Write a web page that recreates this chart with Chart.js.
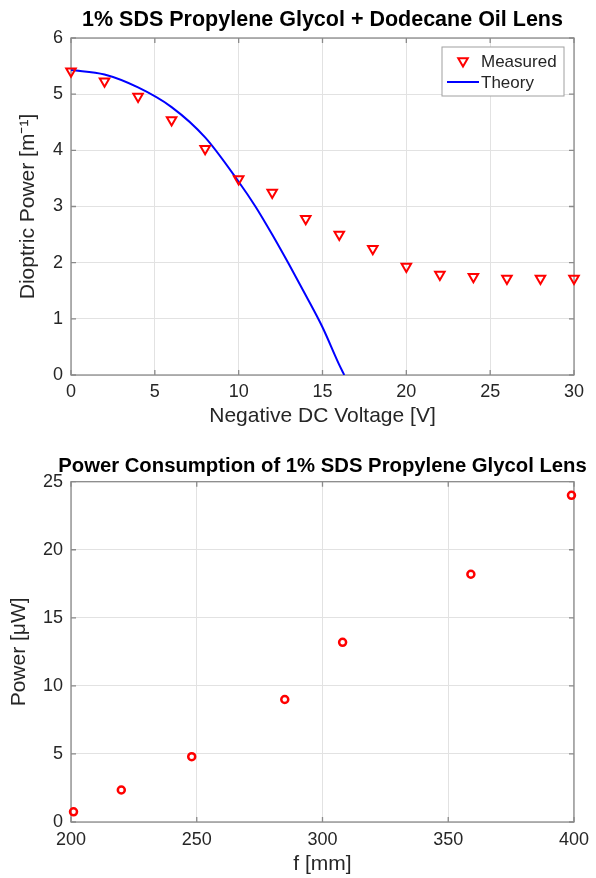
<!DOCTYPE html>
<html lang="en">
<head>
    <meta charset="UTF-8">
    <title>Lens Measurements</title>
    <script src="https://cdn.jsdelivr.net/npm/chart.js"></script>
    <style>
        body { margin: 0; background: #fff; }
        .wrap { position: relative; width: 596px; height: 878px; }
        .wrap canvas { position: absolute; left: 0; }
        #lensChart { top: 0; }
        #powerChart { top: 440px; }
    </style>
</head>
<body>
    <div class="wrap">
        <canvas id="lensChart" width="596" height="440"></canvas>
        <canvas id="powerChart" width="596" height="438"></canvas>
    </div>

    <script>
        // Top chart: dioptric power vs voltage
        const voltage = [0, 2, 4, 6, 8, 10, 12, 14, 16, 18, 20, 22, 24, 26, 28, 30];
        const measured = [5.41, 5.23, 4.96, 4.54, 4.03, 3.49, 3.25, 2.78, 2.50, 2.25, 1.93, 1.79, 1.75, 1.72, 1.72, 1.72];
        const theoryV = [0, 2, 4, 6, 8, 10, 11, 12, 13, 14, 15, 16, 16.3];
        const theoryP = [5.43, 5.35, 5.12, 4.77, 4.23, 3.44, 3.0, 2.5, 1.97, 1.42, 0.85, 0.18, 0];
        const voltTicks = [0, 5, 10, 15, 20, 25, 30];
        const dioptTicks = [0, 1, 2, 3, 4, 5, 6];

        // Bottom chart: power consumption vs focal length
        const focal = [201, 220, 248, 285, 308, 359, 399];
        const power = [0.75, 2.35, 4.8, 9.0, 13.2, 18.2, 24.0];
        const focalTicks = [200, 250, 300, 350, 400];
        const powerTicks = [0, 5, 10, 15, 20, 25];

        const FONT = '"Liberation Sans", Arial, Helvetica, sans-serif';
        const TEXT = '#262626';
        const FRAME = '#8a8a8a';
        Chart.defaults.font.family = FONT;
        Chart.defaults.color = TEXT;

        const pairs = (xs, ys) => xs.map((x, i) => ({ x: x, y: ys[i] }));

        // box around plot area with small inward ticks on all four sides
        const framePlugin = {
            id: 'frame',
            beforeDatasetsDraw(chart) {
                const { ctx, chartArea: a, scales } = chart;
                ctx.save();
                ctx.strokeStyle = FRAME;
                ctx.lineWidth = 1.3;
                ctx.beginPath();
                scales.x.ticks.forEach(t => {
                    const px = scales.x.getPixelForValue(t.value);
                    ctx.moveTo(px, a.bottom); ctx.lineTo(px, a.bottom - 5);
                    ctx.moveTo(px, a.top); ctx.lineTo(px, a.top + 5);
                });
                scales.y.ticks.forEach(t => {
                    const py = scales.y.getPixelForValue(t.value);
                    ctx.moveTo(a.left, py); ctx.lineTo(a.left + 5, py);
                    ctx.moveTo(a.right, py); ctx.lineTo(a.right - 5, py);
                });
                ctx.stroke();
                ctx.strokeRect(a.left, a.top, a.right - a.left, a.bottom - a.top);
                ctx.restore();
            }
        };

        // title centred over the plot area (matlab style)
        const plotTitle = {
            id: 'plotTitle',
            afterDraw(chart, args, opts) {
                const { ctx, chartArea: a } = chart;
                ctx.save();
                ctx.font = 'bold ' + opts.size + 'px ' + FONT;
                ctx.fillStyle = '#000';
                ctx.textAlign = 'center';
                ctx.textBaseline = 'alphabetic';
                ctx.fillText(opts.text, (a.left + a.right) / 2, opts.baseline);
                ctx.restore();
            }
        };

        // legend box inside the top-right corner
        const boxLegend = {
            id: 'boxLegend',
            afterDraw(chart, args, opts) {
                if (!opts.show) return;
                const { ctx, chartArea: a } = chart;
                const x0 = a.right - 132, y0 = a.top + 9, w = 122, h = 49;
                ctx.save();
                ctx.fillStyle = '#fff';
                ctx.fillRect(x0, y0, w, h);
                ctx.strokeStyle = '#a0a0a0';
                ctx.lineWidth = 1;
                ctx.strokeRect(x0, y0, w, h);
                ctx.font = '17px ' + FONT;
                ctx.textBaseline = 'middle';
                chart.data.datasets.forEach((ds, i) => {
                    const cy = y0 + 14 + i * 21;
                    ctx.strokeStyle = ds.borderColor;
                    ctx.lineWidth = ds.borderWidth;
                    if (ds.showLine) {
                        ctx.beginPath();
                        ctx.moveTo(x0 + 5, cy); ctx.lineTo(x0 + 37, cy);
                        ctx.stroke();
                    } else {
                        ctx.fillStyle = '#fff';
                        Chart.helpers.drawPoint(ctx, {
                            pointStyle: ds.pointStyle, rotation: ds.rotation,
                            radius: ds.pointRadius, borderWidth: ds.borderWidth
                        }, x0 + 21, cy);
                    }
                    ctx.fillStyle = TEXT;
                    ctx.fillText(ds.label, x0 + 39, cy + 1);
                });
                ctx.restore();
            }
        };

        function axis(ticks, title, fit, titlePad, tickPad) {
            return {
                type: 'linear',
                min: ticks[0],
                max: ticks[ticks.length - 1],
                afterBuildTicks: s => { s.ticks = ticks.map(v => ({ value: v })); },
                grid: { color: '#e2e2e2', lineWidth: 1, drawTicks: false },
                border: { display: false },
                ticks: { font: { size: 18 }, color: TEXT, padding: tickPad, maxRotation: 0 },
                title: { display: true, text: title, font: { size: 21 }, color: TEXT, padding: titlePad },
                afterFit: fit
            };
        }

        new Chart(document.getElementById('lensChart'), {
            type: 'scatter',
            data: {
                datasets: [{
                    label: 'Measured',
                    data: pairs(voltage, measured),
                    showLine: false,
                    clip: false,
                    pointStyle: 'triangle',
                    rotation: 180,
                    pointRadius: 5.5,
                    borderWidth: 2,
                    borderColor: '#ff0000',
                    backgroundColor: 'rgba(255,255,255,0)'
                }, {
                    label: 'Theory',
                    data: pairs(theoryV, theoryP),
                    showLine: true,
                    pointRadius: 0,
                    borderWidth: 2,
                    borderColor: '#0000ff',
                    cubicInterpolationMode: 'monotone'
                }]
            },
            options: {
                responsive: false,
                animation: false,
                devicePixelRatio: 1,
                layout: { padding: { left: 0, right: 22, top: 38, bottom: 0 } },
                plugins: {
                    legend: { display: false },
                    tooltip: { enabled: false },
                    title: { display: false },
                    plotTitle: { text: '1% SDS Propylene Glycol + Dodecane Oil Lens', size: 21.5, baseline: 25.5 },
                    boxLegend: { show: true }
                },
                scales: {
                    x: axis(voltTicks, 'Negative DC Voltage [V]', s => { s.height = 65; }, { top: 0, bottom: 11 }, 6),
                    y: axis(dioptTicks, 'Dioptric Power [m⁻¹]', s => { s.width = 71; }, { top: 16, bottom: 0 }, 8)
                }
            },
            plugins: [framePlugin, plotTitle, boxLegend]
        });

        new Chart(document.getElementById('powerChart'), {
            type: 'scatter',
            data: {
                datasets: [{
                    label: 'Power',
                    data: pairs(focal, power),
                    showLine: false,
                    clip: false,
                    pointStyle: 'circle',
                    pointRadius: 3.5,
                    borderWidth: 2.5,
                    borderColor: '#ff0000',
                    backgroundColor: 'rgba(255,255,255,0)'
                }]
            },
            options: {
                responsive: false,
                animation: false,
                devicePixelRatio: 1,
                layout: { padding: { left: 0, right: 22, top: 41.7, bottom: 0 } },
                plugins: {
                    legend: { display: false },
                    tooltip: { enabled: false },
                    title: { display: false },
                    plotTitle: { text: 'Power Consumption of 1% SDS Propylene Glycol Lens', size: 20.3, baseline: 32 },
                    boxLegend: { show: false }
                },
                scales: {
                    x: axis(focalTicks, 'f [mm]', s => { s.height = 56; }, { top: 0, bottom: 1.5 }, 7),
                    y: axis(powerTicks, 'Power [μW]', s => { s.width = 71; }, { top: 7, bottom: 0 }, 8)
                }
            },
            plugins: [framePlugin, plotTitle, boxLegend]
        });
    </script>
</body>
</html>
